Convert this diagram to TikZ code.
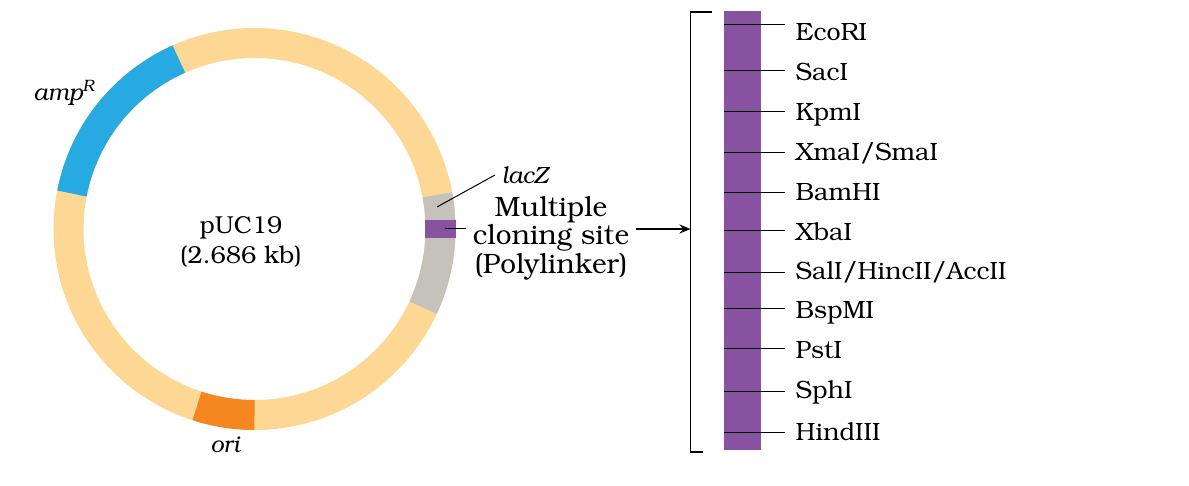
\documentclass[tikz,border=0pt]{standalone}
\usepackage[T1]{fontenc}
\renewcommand{\rmdefault}{pbk}
\usetikzlibrary{arrows.meta}
\usetikzlibrary{calc}
\definecolor{peach}{RGB}{253,215,148}
\definecolor{ampblue}{RGB}{39,169,225}
\definecolor{oriorange}{RGB}{245,135,32}
\definecolor{lacgray}{RGB}{197,193,187}
\definecolor{mcspurple}{RGB}{135,83,161}
\newcommand{\ringpart}[3] % colour, start angle, end angle
{
	\draw[line width=30pt, #1] (ctr) ++(#2:186) arc[start angle=#2, end angle=#3, radius=186];
}
\newcommand{\site}[4] % name, tick y, label y, text
{
	\node[site] (#1) at (785,#3) {#4};
	\draw[thin] (724,#2) -- (#1.west |- 0,#2);
}
\tikzset{
	gene/.style={font=\fontsize{23.5}{28}\selectfont\itshape},
	site/.style={anchor=west, inner xsep=10pt, inner ysep=0pt, text height=17pt, text depth=0pt, font=\fontsize{25}{30}\selectfont}
}

\begin{document}
\begin{tikzpicture}[x=1pt, y=1pt, line width=1pt]
	\useasboundingbox (0,0) rectangle (1189,485);
	% pUC19 ring, centre in pt
	\coordinate (ctr) at (254.5,256);
	\draw[line width=30pt, peach] (ctr) circle (186);
	\ringpart{ampblue}{114}{169}
	\ringpart{oriorange}{252}{270}
	\ringpart{lacgray}{-25}{10.6}
	\fill[mcspurple] (425,265) rectangle (456,247);
	% labels on the ring
	\node[align=center, font=\fontsize{24.5}{30}\selectfont] (puc) at (241,243) {pUC19\\(2.686 kb)};
	\node[gene] (amp) at (64,392) {amp\textsuperscript{R}};
	\node[gene] (ori) at (225,40) {ori};
	\node[gene, anchor=west, inner xsep=6pt] (lacz) at (495,310) {lacZ};
	\coordinate (lacpt) at ([shift={(6.9:184)}]ctr);
	\draw (lacpt) -- (lacz.west);
	% multiple cloning site
	\node[align=center, inner xsep=6pt, font=\fontsize{28}{28.5}\selectfont] (mcs) at (551,247) {Multiple\\cloning site\\(Polylinker)};
	\coordinate (mcspt) at ([shift={(0:190)}]ctr);
	\draw (mcspt) -- (mcspt -| mcs.west);
	% bracket
	\coordinate (brtop) at (690.5,473);
	\coordinate (brbot) at (690.5,33);
	\draw[line width=1.2pt] (712,473) -- (brtop) -- (brbot) -- (703,33);
	\draw[line width=1.8pt, -{Stealth[length=11pt, width=9pt]}] (mcs.east |- mcspt) -- (mcspt -| brtop);
	% polylinker
	\fill[mcspurple] (724,35) rectangle (761,474);
	\site{ecori}{461}{453}{EcoRI}
	\site{saci}{415}{413}{SacI}
	\site{kpmi}{374}{373}{KpmI}
	\site{xmai}{333}{333}{XmaI/SmaI}
	\site{bamhi}{293}{293}{BamHI}
	\site{xbai}{255}{253}{XbaI}
	\site{sali}{213}{214}{SalI/HincII/AccII}
	\site{bspmi}{177}{175}{BspMI}
	\site{psti}{137}{135}{PstI}
	\site{sphi}{94}{95}{SphI}
	\site{hindiii}{53}{53}{HindIII}
\end{tikzpicture}
\end{document}
